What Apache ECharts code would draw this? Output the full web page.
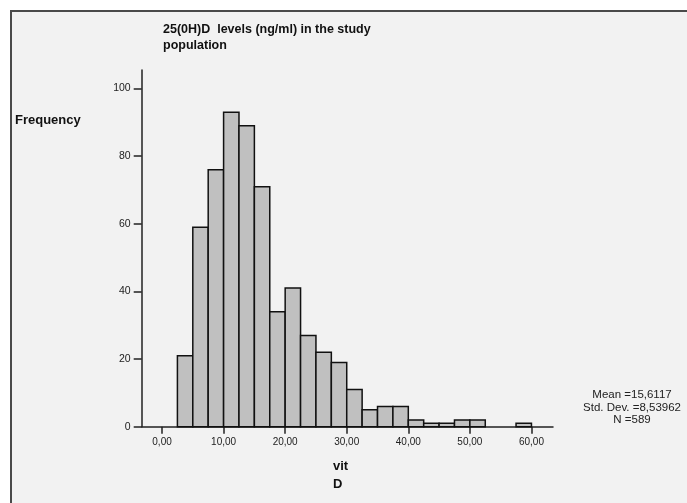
<!DOCTYPE html>
<html>
<head>
<meta charset="utf-8">
<script src="https://cdn.jsdelivr.net/npm/echarts@6/dist/echarts.min.js"></script>
<style>html,body{margin:0;padding:0;background:#fff;}#c{width:687px;height:503px;}</style>
</head>
<body>
<div id="c"></div>
<script>
// Histogram bins (ng/ml) and frequencies
const binStarts = [2.5, 5, 7.5, 10, 12.5, 15, 17.5, 20, 22.5, 25, 27.5, 30, 32.5, 35, 37.5, 40, 42.5, 45, 47.5, 50, 52.5, 55, 57.5];
const binEnds   = [5, 7.5, 10, 12.5, 15, 17.5, 20, 22.5, 25, 27.5, 30, 32.5, 35, 37.5, 40, 42.5, 45, 47.5, 50, 52.5, 55, 57.5, 60];
const counts    = [21, 59, 76, 93, 89, 71, 34, 41, 27, 22, 19, 11, 5, 6, 6, 2, 1, 1, 2, 2, 0, 0, 1];
const xTickValues = [0, 10, 20, 30, 40, 50, 60];
const yTickValues = [0, 20, 40, 60, 80, 100];
const statsLines = ['Mean =15,6117', 'Std. Dev. =8,53962', 'N =589'];

const FONT = '"Liberation Sans", Arial, sans-serif';
const data = binStarts.map((s, i) => [s, binEnds[i], counts[i]]).filter(d => d[2] > 0);

const chart = echarts.init(document.getElementById('c'), null, {renderer: 'canvas'});
chart.setOption({
  backgroundColor: '#ffffff',
  animation: false,
  textStyle: {fontFamily: FONT},
  graphic: [
    {type: 'rect', z: -10, silent: true, shape: {x: 11, y: 11, width: 700, height: 520},
     style: {fill: '#f2f2f2', stroke: '#4a4a4a', lineWidth: 2}},
    {type: 'text', left: 163, top: 22, style: {text: '25(0H)D  levels (ng/ml) in the study\npopulation', font: 'bold 12.5px ' + FONT, fill: '#111', lineHeight: 16}},
    {type: 'text', left: 15, top: 114, style: {text: 'Frequency', font: 'bold 13px ' + FONT, fill: '#111'}},
    {type: 'text', left: 333, top: 457, style: {text: 'vit\nD', font: 'bold 13px ' + FONT, fill: '#111', lineHeight: 18}},
    {type: 'text', x: 632, y: 389, style: {text: statsLines.join('\n'), font: '11.5px ' + FONT, fill: '#222', align: 'center', lineHeight: 12.5}}
  ],
  grid: {left: 141.7, right: 134, top: 70, bottom: 76.3, containLabel: false},
  xAxis: {
    type: 'value', min: -3.3, max: 63.5,
    splitLine: {show: false},
    axisLine: {show: true, onZero: false, lineStyle: {color: '#222', width: 1.5}},
    axisTick: {show: true, customValues: xTickValues, length: 7, lineStyle: {color: '#222', width: 1.5}},
    axisLabel: {customValues: xTickValues, formatter: v => v.toFixed(2).replace('.', ','), fontSize: 10, color: '#222', margin: 11, fontFamily: FONT}
  },
  yAxis: {
    type: 'value', min: 0, max: 105.5,
    splitLine: {show: false},
    axisLine: {show: true, onZero: false, lineStyle: {color: '#222', width: 1.5}},
    axisTick: {show: true, customValues: yTickValues, length: 8, lineStyle: {color: '#222', width: 1.5}},
    axisLabel: {customValues: yTickValues, fontSize: 10.5, color: '#222', margin: 11, fontFamily: FONT}
  },
  series: [{
    type: 'custom',
    data: data,
    encode: {x: [0, 1], y: 2},
    renderItem: function (params, api) {
      const p0 = api.coord([api.value(0), api.value(2)]);
      const p1 = api.coord([api.value(1), 0]);
      return {
        type: 'rect',
        shape: {x: p0[0], y: p0[1], width: p1[0] - p0[0], height: p1[1] - p0[1]},
        style: {fill: '#c0c0c0', stroke: '#111', lineWidth: 1.5}
      };
    }
  }]
});
</script>
</body>
</html>
